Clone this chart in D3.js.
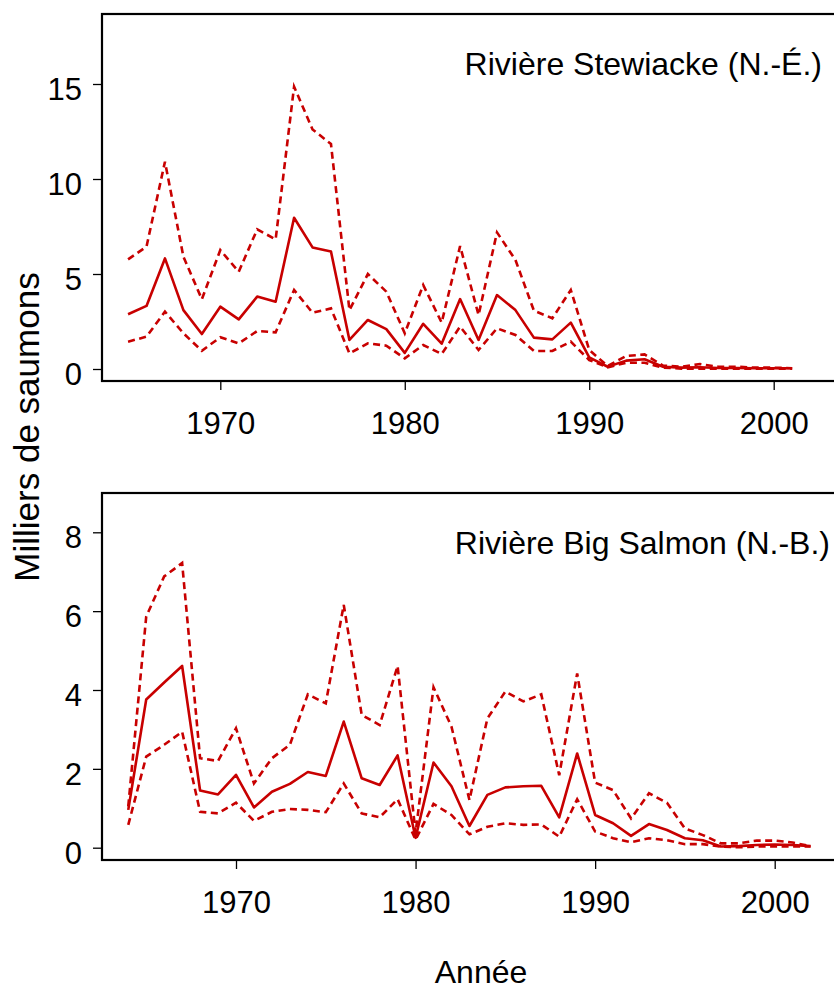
<!DOCTYPE html>
<html lang="fr">
<head>
  <meta charset="UTF-8">
  <title>Saumons - Stewiacke et Big Salmon</title>
  <script src="https://d3js.org/d3.v7.min.js"></script>
  <style>
    body { margin: 0; background: #fff; }
    text { font-family: "Liberation Sans", Arial, sans-serif; fill: #000; }
    .frame { fill: none; stroke: #000; stroke-width: 2.2px; }
    .axis path { display: none; }
    .axis line { stroke: #000; stroke-width: 1.3px; }
    .axis text { font-size: 31px; }
    .mid { fill: none; stroke: #c80000; stroke-width: 2.6px; stroke-linejoin: round; }
    .ci { fill: none; stroke: #c80000; stroke-width: 2.6px; stroke-dasharray: 7,4.5; }
  </style>
</head>
<body>
<svg width="834" height="990"></svg>
<script>
  // Riviere Stewiacke, 1965-2001 (milliers de saumons)
  const yearsStew = d3.range(1965, 2002);
  const stewMid = [2.88, 3.32, 5.82, 3.10, 1.84, 3.28, 2.61, 3.81, 3.54, 7.96,
    6.40, 6.18, 1.53, 2.58, 2.10, 0.85, 2.38, 1.33, 3.68, 1.53,
    3.89, 3.10, 1.65, 1.56, 2.44, 0.61, 0.12, 0.44, 0.51, 0.12,
    0.07, 0.09, 0.05, 0.05, 0.04, 0.04, 0.04];
  const stewHigh = [5.77, 6.44, 10.91, 5.91, 3.67, 6.26, 5.12, 7.35, 6.82, 14.86,
    12.61, 11.84, 3.10, 5.00, 4.07, 1.88, 4.42, 2.44, 6.47, 2.84,
    7.19, 5.74, 3.07, 2.67, 4.16, 1.00, 0.16, 0.68, 0.77, 0.18,
    0.12, 0.26, 0.12, 0.12, 0.07, 0.07, 0.04];
  const stewLow = [1.44, 1.70, 3.02, 1.88, 0.96, 1.67, 1.35, 2.00, 1.93, 4.16,
    2.96, 3.19, 0.82, 1.35, 1.23, 0.56, 1.26, 0.79, 2.23, 1.00,
    2.14, 1.79, 0.95, 0.95, 1.44, 0.47, 0.09, 0.33, 0.33, 0.07,
    0.02, 0.02, 0.02, 0.02, 0.02, 0.02, 0.02];

  // Riviere Big Salmon, 1964-2002
  const yearsBig = d3.range(1964, 2003);
  const bigMid = [0.96, 3.76, 4.19, 4.61, 1.45, 1.35, 1.85, 1.02, 1.42, 1.62,
    1.92, 1.82, 3.20, 1.76, 1.59, 2.34, 0.25, 2.16, 1.56, 0.55,
    1.34, 1.53, 1.56, 1.57, 0.77, 2.39, 0.83, 0.62, 0.30, 0.60,
    0.45, 0.24, 0.19, 0.03, 0.04, 0.07, 0.08, 0.07, 0.04];
  const bigHigh = [1.05, 5.86, 6.88, 7.22, 2.27, 2.20, 3.03, 1.63, 2.27, 2.61,
    3.89, 3.66, 6.16, 3.37, 3.11, 4.61, 0.37, 4.07, 3.07, 1.21,
    3.28, 3.96, 3.71, 3.89, 1.84, 4.42, 1.65, 1.46, 0.74, 1.38,
    1.14, 0.49, 0.32, 0.11, 0.11, 0.18, 0.18, 0.13, 0.04];
  const bigLow = [0.58, 2.31, 2.61, 2.94, 0.91, 0.87, 1.14, 0.68, 0.91, 0.98,
    0.96, 0.90, 1.63, 0.87, 0.77, 1.23, 0.20, 1.11, 0.83, 0.34,
    0.53, 0.62, 0.58, 0.59, 0.28, 1.23, 0.41, 0.24, 0.14, 0.24,
    0.19, 0.09, 0.09, 0.03, 0.01, 0.03, 0.03, 0.03, 0.03];

  const xTicks = [1970, 1980, 1990, 2000];
  const yTicksStew = [0, 5, 10, 15];
  const yTicksBig = [0, 2, 4, 6, 8];

  const svg = d3.select("svg");

  function panel(opts) {
    const g = svg.append("g");
    const x = d3.scaleLinear().domain([1970, 2000]).range(opts.xr);
    const y = d3.scaleLinear().domain([0, opts.yTicks[opts.yTicks.length - 1]]).range(opts.yr);

    // box (right side falls outside the picture)
    g.append("rect")
      .attr("class", "frame")
      .attr("x", opts.left)
      .attr("y", opts.top)
      .attr("width", 860 - opts.left)
      .attr("height", opts.bottom - opts.top);

    const xAxis = g.append("g")
      .attr("class", "axis")
      .attr("transform", `translate(0,${opts.bottom})`)
      .call(d3.axisBottom(x).tickValues(xTicks).tickFormat(d3.format("d")).tickSize(9).tickPadding(22));
    xAxis.selectAll("text").attr("dy", "0.71em");

    const yAxis = g.append("g")
      .attr("class", "axis")
      .attr("transform", `translate(${opts.left},0)`)
      .call(d3.axisLeft(y).tickValues(opts.yTicks).tickSize(9).tickPadding(11));
    yAxis.selectAll("text").attr("dy", "0.5em");

    const line = d3.line()
      .x((d, i) => x(opts.years[i]))
      .y(d => y(d));

    g.append("path").attr("class", "ci").attr("d", line(opts.high));
    g.append("path").attr("class", "ci").attr("d", line(opts.low));
    g.append("path").attr("class", "mid").attr("d", line(opts.mid));

    g.append("text")
      .attr("x", opts.titleX)
      .attr("y", opts.titleY)
      .attr("text-anchor", "end")
      .style("font-size", "32px")
      .text(opts.title);
  }

  panel({
    left: 102, top: 14, bottom: 381,
    xr: [220.3, 773.7], yr: [369, 84],
    yTicks: yTicksStew,
    years: yearsStew, mid: stewMid, high: stewHigh, low: stewLow,
    title: "Rivière Stewiacke (N.-É.)", titleX: 822, titleY: 75
  });

  panel({
    left: 102, top: 493, bottom: 860,
    xr: [236, 774.7], yr: [847.7, 532.3],
    yTicks: yTicksBig,
    years: yearsBig, mid: bigMid, high: bigHigh, low: bigLow,
    title: "Rivière Big Salmon (N.-B.)", titleX: 830, titleY: 554
  });

  // axis titles
  svg.append("text")
    .attr("transform", "translate(39,427) rotate(-90)")
    .attr("text-anchor", "middle")
    .style("font-size", "35px")
    .text("Milliers de saumons");

  svg.append("text")
    .attr("x", 481)
    .attr("y", 983)
    .attr("text-anchor", "middle")
    .style("font-size", "32px")
    .text("Année");
</script>
</body>
</html>
